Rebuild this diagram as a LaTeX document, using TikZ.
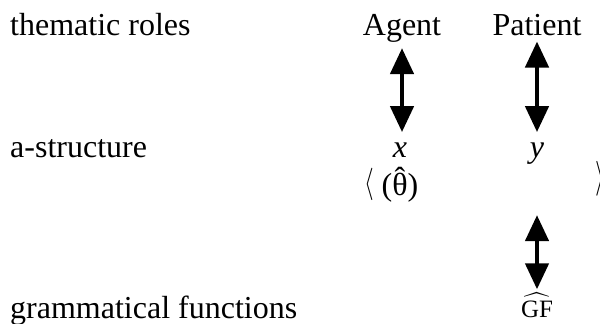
\documentclass[tikz,border=0pt]{standalone}
\usepackage{amsmath}
\usepackage{fontspec}
\setmainfont{Liberation Serif}
\usetikzlibrary{arrows.meta}

\begin{document}
\begin{tikzpicture}[x=1pt, y=-1pt]
	\tikzset{
		level/.style = {anchor=base west, inner sep=0pt, font=\fontsize{32}{38}\selectfont},
		word/.style = {anchor=base, inner sep=0pt, font=\fontsize{32}{38}\selectfont},
		brack/.style = {inner sep=0pt, font=\fontsize{32}{38}\selectfont},
		link/.style = {line width=4.5pt, {Triangle[width=23pt,length=26pt]}-{Triangle[width=23pt,length=26pt]}}
	}
	\useasboundingbox (0, 0) rectangle (600, 324);
	% row labels
	\node[level] (roles) at (10, 35) {thematic roles};
	\node[level] (astr) at (10, 157) {a-structure};
	\node[level] (gfs) at (10, 318) {grammatical functions};
	% roles and arguments
	\node[word] (agent) at (402, 35) {Agent};
	\node[word] (patient) at (537, 35) {Patient};
	\node[word] (x) at (400, 157) {\textit{x}};
	\node[word] (y) at (537, 157) {\textit{y}};
	\node[word] (theta) at (400, 195) {(\ooalign{θ\cr\hidewidth\raisebox{0.16em}{ˆ}\hidewidth\cr})};
	\node[word, font=\fontsize{25}{30}\selectfont] (gf) at (537, 317) {$\widehat{\mathrm{GF}}$};
	\node[brack] (lb) at (369, 184) {\scalebox{1}[1.3]{$\langle$}};
	\node[brack] (rb) at (600, 179) {\scalebox{1}[1.4]{$\rangle$}};
	% links
	\draw[link, shorten <=6pt, shorten >=10pt] (agent.south) -- (agent.south |- x.north);
	\draw[link, shorten <=6pt, shorten >=10pt] (patient.south) -- (patient.south |- y.north);
	\draw[link, shorten <=51pt, shorten >=3pt] (y.south) -- (gf.north);
\end{tikzpicture}
\end{document}
